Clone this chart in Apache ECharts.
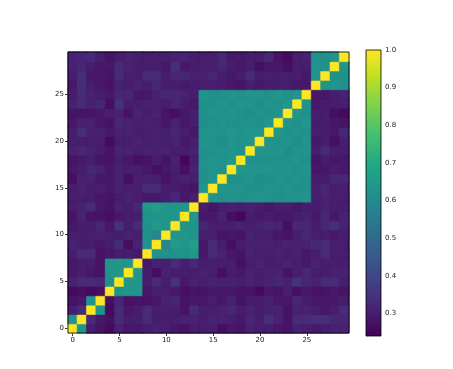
<!DOCTYPE html>
<html>
<head>
<meta charset="utf-8">
<script src="https://cdn.jsdelivr.net/npm/echarts@6/dist/echarts.min.js"></script>
<style>
html,body{margin:0;padding:0;background:#fff;}
#chart{width:453px;height:369px;}
</style>
</head>
<body>
<div id="chart"></div>
<script>
// Lower-triangle rows of the symmetric matrix (row r holds columns 0..r-1); diagonal = 1
const L1  = [0.63];
const L2  = [0.30, 0.33];
const L3  = [0.28, 0.29, 0.63];
const L4  = [0.26, 0.27, 0.26, 0.27];
const L5  = [0.31, 0.33, 0.33, 0.32, 0.62];
const L6  = [0.29, 0.30, 0.29, 0.28, 0.63, 0.64];
const L7  = [0.29, 0.30, 0.30, 0.28, 0.63, 0.64, 0.64];
const L8  = [0.30, 0.33, 0.33, 0.28, 0.29, 0.30, 0.30, 0.29];
const L9  = [0.31, 0.30, 0.30, 0.29, 0.30, 0.33, 0.27, 0.31, 0.62];
const L10 = [0.30, 0.30, 0.30, 0.31, 0.30, 0.30, 0.31, 0.30, 0.62, 0.59];
const L11 = [0.29, 0.30, 0.30, 0.32, 0.29, 0.35, 0.30, 0.33, 0.62, 0.65, 0.63];
const L12 = [0.28, 0.31, 0.28, 0.28, 0.27, 0.29, 0.30, 0.30, 0.62, 0.63, 0.64, 0.63];
const L13 = [0.30, 0.31, 0.33, 0.29, 0.28, 0.31, 0.30, 0.32, 0.64, 0.66, 0.63, 0.63, 0.64];
const L14 = [0.30, 0.30, 0.30, 0.29, 0.28, 0.30, 0.31, 0.30, 0.29, 0.29, 0.30, 0.32, 0.29, 0.30];
const L15 = [0.30, 0.31, 0.30, 0.30, 0.29, 0.31, 0.30, 0.30, 0.33, 0.33, 0.30, 0.30, 0.29, 0.28, 0.63];
const L16 = [0.27, 0.31, 0.31, 0.29, 0.29, 0.31, 0.27, 0.30, 0.31, 0.30, 0.28, 0.30, 0.31, 0.30, 0.62, 0.63];
const L17 = [0.29, 0.30, 0.32, 0.31, 0.29, 0.31, 0.30, 0.30, 0.29, 0.27, 0.29, 0.30, 0.27, 0.31, 0.62, 0.63, 0.62];
const L18 = [0.28, 0.29, 0.30, 0.28, 0.28, 0.30, 0.29, 0.27, 0.28, 0.30, 0.28, 0.31, 0.25, 0.30, 0.62, 0.63, 0.62, 0.64];
const L19 = [0.31, 0.32, 0.31, 0.30, 0.28, 0.31, 0.31, 0.30, 0.31, 0.31, 0.31, 0.30, 0.30, 0.31, 0.62, 0.62, 0.63, 0.63, 0.62];
const L20 = [0.30, 0.30, 0.30, 0.30, 0.26, 0.30, 0.30, 0.31, 0.30, 0.31, 0.30, 0.31, 0.29, 0.30, 0.63, 0.62, 0.61, 0.63, 0.62, 0.63];
const L21 = [0.30, 0.34, 0.31, 0.31, 0.29, 0.31, 0.31, 0.30, 0.30, 0.31, 0.30, 0.32, 0.30, 0.29, 0.62, 0.63, 0.62, 0.64, 0.62, 0.63, 0.63];
const L22 = [0.29, 0.31, 0.31, 0.29, 0.28, 0.32, 0.31, 0.30, 0.31, 0.30, 0.29, 0.31, 0.29, 0.30, 0.61, 0.62, 0.63, 0.62, 0.62, 0.63, 0.62, 0.64];
const L23 = [0.28, 0.28, 0.28, 0.29, 0.30, 0.31, 0.28, 0.31, 0.30, 0.31, 0.28, 0.27, 0.29, 0.30, 0.62, 0.63, 0.62, 0.63, 0.62, 0.61, 0.63, 0.62, 0.63];
const L24 = [0.31, 0.33, 0.31, 0.32, 0.27, 0.35, 0.30, 0.30, 0.31, 0.31, 0.30, 0.32, 0.30, 0.29, 0.62, 0.62, 0.63, 0.62, 0.64, 0.63, 0.61, 0.63, 0.62, 0.64];
const L25 = [0.30, 0.33, 0.31, 0.30, 0.29, 0.32, 0.32, 0.29, 0.29, 0.31, 0.32, 0.32, 0.31, 0.30, 0.63, 0.62, 0.62, 0.63, 0.62, 0.63, 0.63, 0.62, 0.64, 0.62, 0.63];
const L26 = [0.29, 0.34, 0.30, 0.29, 0.28, 0.31, 0.30, 0.31, 0.30, 0.32, 0.30, 0.30, 0.29, 0.30, 0.30, 0.30, 0.30, 0.29, 0.28, 0.30, 0.29, 0.30, 0.30, 0.30, 0.29, 0.29];
const L27 = [0.30, 0.34, 0.29, 0.29, 0.28, 0.33, 0.30, 0.30, 0.33, 0.33, 0.30, 0.32, 0.32, 0.31, 0.31, 0.32, 0.30, 0.29, 0.30, 0.33, 0.30, 0.30, 0.30, 0.30, 0.30, 0.29, 0.63];
const L28 = [0.31, 0.32, 0.30, 0.29, 0.29, 0.33, 0.31, 0.30, 0.30, 0.30, 0.29, 0.34, 0.29, 0.30, 0.30, 0.30, 0.32, 0.30, 0.29, 0.30, 0.27, 0.29, 0.29, 0.27, 0.30, 0.30, 0.63, 0.62];
const L29 = [0.31, 0.32, 0.33, 0.30, 0.28, 0.30, 0.31, 0.30, 0.30, 0.30, 0.30, 0.31, 0.31, 0.30, 0.30, 0.30, 0.32, 0.29, 0.29, 0.30, 0.30, 0.32, 0.28, 0.26, 0.30, 0.31, 0.62, 0.62, 0.63];

const lowerRows = [[], L1, L2, L3, L4, L5, L6, L7, L8, L9, L10, L11, L12, L13, L14, L15, L16, L17, L18, L19, L20, L21, L22, L23, L24, L25, L26, L27, L28, L29];
const diagValue = 1.0;
const nCells = 30;
const categories = Array.from({length: nCells}, (_, i) => String(i));
const colorbarTicks = [0.3, 0.4, 0.5, 0.6, 0.7, 0.8, 0.9, 1.0];
const colorMin = 0.24, colorMax = 1.0;

const viridis = ['#440154','#482475','#414487','#355f8d','#2a788e','#21918c','#22a884','#44bf70','#7ad151','#bddf26','#fde725'];

function hexToRgb(h) { return [parseInt(h.substr(1,2),16), parseInt(h.substr(3,2),16), parseInt(h.substr(5,2),16)]; }
const viridisRgb = viridis.map(hexToRgb);
function cmap(v) {
  let t = (v - colorMin) / (colorMax - colorMin);
  t = Math.max(0, Math.min(1, t));
  const pos = t * (viridisRgb.length - 1);
  const i = Math.min(Math.floor(pos), viridisRgb.length - 2);
  const f = pos - i;
  const a = viridisRgb[i], b = viridisRgb[i + 1];
  const c = a.map((x, k) => Math.round(x + (b[k] - x) * f));
  return 'rgb(' + c.join(',') + ')';
}

const data = [];
for (let r = 0; r < nCells; r++) {
  for (let c = 0; c < nCells; c++) {
    let v;
    if (r === c) v = diagValue;
    else if (c < r) v = lowerRows[r][c];
    else v = lowerRows[c][r];
    data.push({value: [c, r, v], itemStyle: {borderColor: cmap(v), borderWidth: 0.6}});
  }
}

const chart = echarts.init(document.getElementById('chart'), null, {renderer: 'canvas'});
const font = 'DejaVu Sans';
const stops = viridis.map((col, i) => ({offset: i / (viridis.length - 1), color: col}));

chart.setOption({
  animation: false,
  backgroundColor: '#fff',
  textStyle: {fontFamily: font},
  grid: [
    {left: 68, top: 52, width: 281, height: 281, show: false},
    {left: 366, top: 50, width: 15, height: 286, show: false}
  ],
  xAxis: [
    {type: 'category', gridIndex: 0, data: categories,
     axisLine: {show: false},
     axisTick: {show: true, interval: 4, alignWithLabel: true, length: 3, lineStyle: {color: '#000', width: 0.8}},
     axisLabel: {interval: 4, fontSize: 7, color: '#222', margin: 4, fontFamily: font},
     splitLine: {show: false}},
    {type: 'value', gridIndex: 1, show: false, min: 0, max: 1}
  ],
  yAxis: [
    {type: 'category', gridIndex: 0, data: categories,
     axisLine: {show: false},
     axisTick: {show: true, interval: 4, alignWithLabel: true, length: 3, lineStyle: {color: '#000', width: 0.8}},
     axisLabel: {interval: 4, fontSize: 7, color: '#222', margin: 4, fontFamily: font},
     splitLine: {show: false}},
    {type: 'value', gridIndex: 1, min: colorMin, max: colorMax, position: 'right',
     axisLine: {show: false},
     axisTick: {show: true, customValues: colorbarTicks, length: 3, lineStyle: {color: '#000', width: 0.8}},
     axisLabel: {customValues: colorbarTicks, fontSize: 7, color: '#222', margin: 4, fontFamily: font,
                 formatter: v => Number(v).toFixed(1)},
     splitLine: {show: false}}
  ],
  visualMap: {show: false, min: colorMin, max: colorMax, seriesIndex: 0, inRange: {color: viridis}},
  graphic: [
    {type: 'rect', shape: {x: 68, y: 52, width: 281, height: 281},
     style: {fill: 'none', stroke: '#000', lineWidth: 0.8}, z: 10},
    {type: 'rect', shape: {x: 366, y: 50, width: 15, height: 286},
     style: {fill: new echarts.graphic.LinearGradient(0, 1, 0, 0, stops), stroke: '#000', lineWidth: 0.8},
     z: 10}
  ],
  series: [
    {type: 'heatmap', xAxisIndex: 0, yAxisIndex: 0, data: data,
     emphasis: {disabled: true}}
  ]
});
</script>
</body>
</html>
